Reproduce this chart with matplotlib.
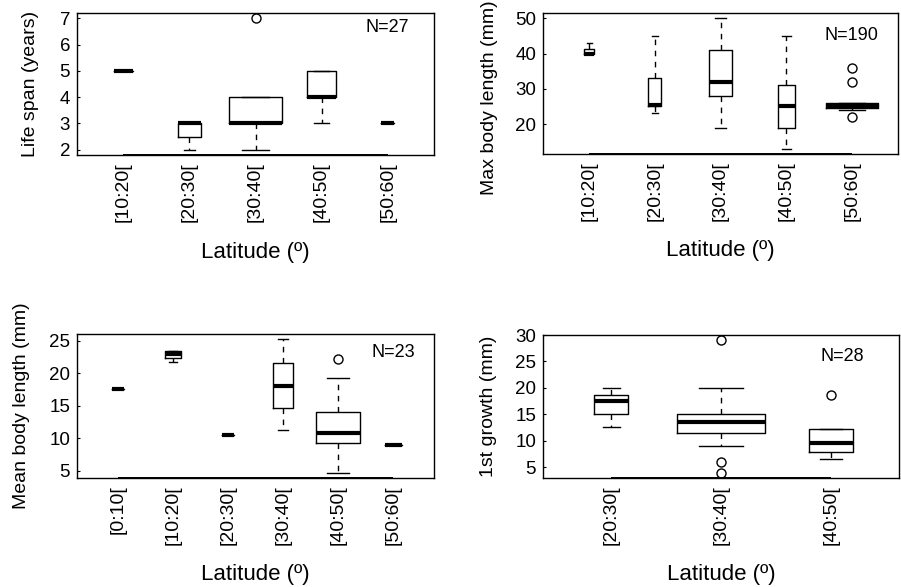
"""Boxplots of life-history traits by latitude band (R-style varwidth boxplots)."""
import matplotlib
matplotlib.use("Agg")
import matplotlib.pyplot as plt
import numpy as np

# ---- panel (a): life span ----
lat_a = ["[10:20[", "[20:30[", "[30:40[", "[40:50[", "[50:60["]
n_a = [2, 3, 16, 5, 1]
lo_a = [5, 2, 2, 3, 3]
q1_a = [5, 2.5, 3, 4, 3]
med_a = [5, 3, 3, 4, 3]
q3_a = [5, 3, 4, 5, 3]
hi_a = [5, 3, 4, 5, 3]
out_a = [[], [], [7], [], []]

# ---- panel (b): max body length ----
lat_b = ["[10:20[", "[20:30[", "[30:40[", "[40:50[", "[50:60["]
n_b = [5, 8, 25, 15, 137]
lo_b = [40, 23, 19, 13, 24]
q1_b = [40, 25, 28, 19, 24.5]
med_b = [40, 25.5, 32, 25, 25]
q3_b = [41.3, 33, 41, 31, 26]
hi_b = [43, 45, 50, 45, 26]
out_b = [[], [], [], [], [36, 32, 22]]

# ---- panel (c): mean body length ----
lat_c = ["[0:10[", "[10:20[", "[20:30[", "[30:40[", "[40:50[", "[50:60["]
n_c = [1, 2, 1, 3, 14, 2]
lo_c = [17.5, 21.7, 10.5, 11.2, 4.7, 9]
q1_c = [17.5, 22.4, 10.5, 14.6, 9.2, 9]
med_c = [17.5, 22.9, 10.5, 18, 10.8, 9]
q3_c = [17.5, 23.4, 10.5, 21.6, 14, 9]
hi_c = [17.5, 23.4, 10.5, 25.2, 19.3, 9]
out_c = [[], [], [], [], [22.1], []]

# ---- panel (d): 1st growth ----
lat_d = ["[20:30[", "[30:40[", "[40:50["]
n_d = [3, 20, 5]
lo_d = [12.6, 9, 6.6]
q1_d = [15, 11.5, 8]
med_d = [17.5, 13.5, 9.6]
q3_d = [18.7, 15, 12.3]
hi_d = [20, 20, 12.3]
out_d = [[], [29, 6, 4], [18.7]]

W, H = 901, 587


def setup():
    plt.rcParams.update({
        "font.family": ["Liberation Sans", "DejaVu Sans"], "font.size": 13,
        "axes.linewidth": 1.0,
        "xtick.labelsize": 14, "ytick.labelsize": 13.5,
    })


def px_axes(fig, left, top, right, bottom):
    return fig.add_axes([left / W, 1 - bottom / H, (right - left) / W, (bottom - top) / H])


def panel(ax, labels, n, lo, q1, med, q3, hi, out, ylabel, ntext, step,
          ntext_xy, ylab_xy, xlab_y):
    k = len(labels)
    pos = np.arange(1, k + 1)
    w = 0.8 * np.sqrt(np.array(n) / max(n))
    stats = [dict(whislo=lo[i], q1=q1[i], med=med[i], q3=q3[i], whishi=hi[i],
                  fliers=out[i]) for i in range(k)]
    ax.bxp(stats, positions=pos, widths=w, capwidths=0.5 * w, manage_ticks=False,
           boxprops=dict(color="black", lw=1.0),
           whiskerprops=dict(color="black", lw=1.0, ls=(0, (4, 4))),
           capprops=dict(color="black", lw=1.0),
           medianprops=dict(color="black", lw=3.0, solid_capstyle="butt"),
           flierprops=dict(marker="o", mfc="none", mec="black", ms=6.5, mew=1.0))

    vals = np.concatenate([lo, hi] + [np.array(o, float) for o in out if o])
    vmin, vmax = vals.min(), vals.max()
    r = vmax - vmin
    ax.set_ylim(vmin - 0.04 * r, vmax + 0.04 * r)
    ax.set_xlim(0.5 - 0.04 * k, k + 0.5 + 0.04 * k)
    ax.yaxis.set_major_locator(plt.MultipleLocator(step))

    # R draws the x axis line only between first and last tick
    y0 = ax.get_ylim()[0]
    ax.plot([pos[0], pos[-1]], [y0, y0], color="black", lw=1.4, clip_on=False,
            solid_capstyle="butt")

    ax.set_xticks(pos)
    ax.set_xticklabels(labels, rotation=90)
    ax.tick_params(axis="x", length=0, pad=5)
    ax.tick_params(axis="y", direction="in", length=2, pad=5)

    ax.set_ylabel(ylabel, fontsize=14)
    ax.yaxis.set_label_coords(*ylab_xy)
    ax.set_xlabel("Latitude (º)", fontsize=16)
    ax.xaxis.set_label_coords(0.5, xlab_y)
    ax.text(ntext_xy[0], ntext_xy[1], ntext, transform=ax.transAxes,
            ha="center", va="center", fontsize=13)


def main():
    setup()
    fig = plt.figure(figsize=(W / 100, H / 100), dpi=100)

    ax = px_axes(fig, 77, 13, 434, 155)
    panel(ax, lat_a, n_a, lo_a, q1_a, med_a, q3_a, hi_a, out_a,
          "Life span (years)", "N=27", 1, (0.87, 0.90), (-0.106, 0.5), -0.61)

    ax = px_axes(fig, 543, 13, 898, 154)
    panel(ax, lat_b, n_b, lo_b, q1_b, med_b, q3_b, hi_b, out_b,
          "Max body length (mm)", "N=190", 10, (0.87, 0.84), (-0.127, 0.40), -0.61)

    ax = px_axes(fig, 77, 334, 434, 478)
    panel(ax, lat_c, n_c, lo_c, q1_c, med_c, q3_c, hi_c, out_c,
          "Mean body length (mm)", "N=23", 5, (0.885, 0.87), (-0.132, 0.5), -0.60)

    ax = px_axes(fig, 543, 335, 899, 478)
    panel(ax, lat_d, n_d, lo_d, q1_d, med_d, q3_d, hi_d, out_d,
          "1st growth (mm)", "N=28", 5, (0.84, 0.85), (-0.129, 0.5), -0.60)

    fig.savefig("out.png", dpi=100)
    plt.close(fig)


if __name__ == "__main__":
    main()
